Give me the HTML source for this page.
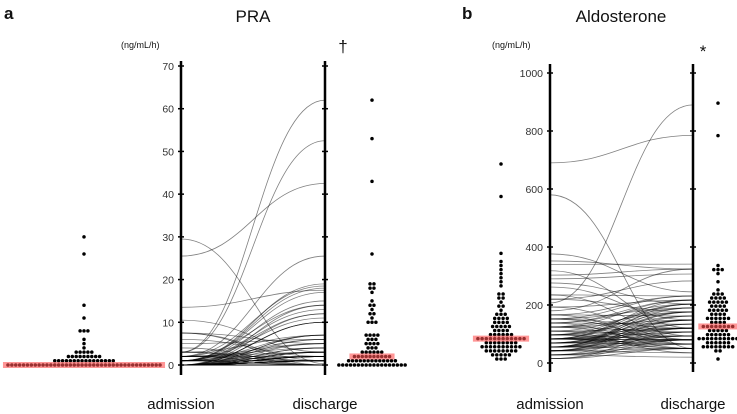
<!DOCTYPE html>
<html><head><meta charset="utf-8"><style>
body{margin:0;background:#fff;}
svg{display:block;font-family:"Liberation Sans",Arial,sans-serif;}
</style></head><body>
<svg id="c" width="737" height="414" viewBox="0 0 737 414"></svg>
<script>
// PRA data (ng/mL/h), paired admission/discharge
const praAdmission=[29.5,25.5,13.5,10.5,7.5,7.5,7.5,6,5,4,3,3,3,3,3,
2,2,2,2,2,2,2,2,2,
1,1,1,1,1,1,1,1,1,1,1,1,1,1,1,1,0,
0,0,0,0,0,0,0,0,0,0,0,0,0,0,0,0,0,0,0,0,0,0,0,0,0,0,0,0,0,0,0,0,0,0,0,0,0,0,0];
const praDischarge=[0.3,42.5,17.5,3,5,1,0,2,6,0,62,52.5,1,7,0,
25.5,18.5,14,4,2,1,0,5,3,
19,18,17,15,13,12,11,7,6,3,2,1,1,0,0,5,2,
10,10,10,12,14,7,7,6,5,4,4,3,3,3,2,2,2,2,2,2,1,1,1,1,1,1,1,1,0,0,0,0,0,0,0,0,0,0,0];
const praTicks=[0,10,20,30,40,50,60,70];
// Aldosterone data
const aldoAdmission=[690,580,376,352,340,318,303,290,276,262,235,235,220,220,207,193,193,180,166,166,166,
152,152,152,152,138,138,138,138,124,124,124,124,124,110,110,110,110,
97,97,97,97,97,97,83,83,83,83,83,83,83,83,83,83,83,83,69,69,69,69,69,69,69,69,
55,55,55,55,55,55,55,55,55,55,42,42,42,42,42,42,42,42,28,28,28,28,28,15,15,15];
const aldoDischarge=[785,50,245,324,341,120,324,307,203,148,231,93,283,176,890,217,80,324,162,231,65,
231,190,120,80,217,50,203,134,107,176,65,217,148,93,120,190,35,162,80,203,50,176,
120,190,148,65,93,217,80,107,134,203,120,50,80,176,148,93,65,162,107,120,80,190,50,
176,134,93,203,80,148,65,120,107,162,50,134,80,93,35,148,120,65,80,50,20,107,80,50];
const aldoTicks=[0,200,400,600,800,1000];

const svg=document.getElementById('c');
const NS='http://www.w3.org/2000/svg';
function mk(tag,attrs,parent){const e=document.createElementNS(NS,tag);for(const k in attrs)e.setAttribute(k,attrs[k]);(parent||svg).appendChild(e);return e;}
function median(a){const s=[...a].sort((x,y)=>x-y);const n=s.length;return n%2?s[(n-1)/2]:(s[n/2-1]+s[n/2])/2;}

function panel(cfg){
  const g=mk('g',{});
  
  
  const y=v=>cfg.y0-v*(cfg.y0-cfg.yTop)/cfg.max;
  const lg=mk('g',{},g);
  
  
  const dx=cfg.x2-cfg.x1;
  for(let i=0;i<cfg.adm.length;i++){
    const y1=y(cfg.adm[i]),y2=y(cfg.dis[i]);
    const p=mk('path',{d:`M${cfg.x1},${y1} C${cfg.x1+dx*0.45},${y1} ${cfg.x2-dx*0.45},${y2} ${cfg.x2},${y2}`,fill:'none',stroke:'rgba(0,0,0,0.5)','stroke-width':0.8},lg);
    
    
  }
  [cfg.x1,cfg.x2].forEach((ax,k)=>{
    const a=mk('line',{x1:ax,x2:ax,y1:cfg.axTop,y2:cfg.axBot,stroke:'#000','stroke-width':2.5},g);
    
    
    cfg.ticks.forEach(t=>{
      const tk=mk('line',{x1:ax-3,x2:ax+3,y1:y(t),y2:y(t),stroke:'#000','stroke-width':1.5},g);
      
      
    });
  });
  cfg.ticks.forEach(t=>{
    const tl=mk('text',{x:cfg.x1-7,y:y(t)+4,'text-anchor':'end','font-size':10.5,fill:'#333'},g);
    tl.textContent=t;
    
    
  });
  function dots(vals,cx,nm){
    const dg=mk('g',{},g);
    
    
    const sp=cfg.sp;
    const rows={};
    vals.forEach(v=>{const r=Math.round(v/cfg.bin);(rows[r]=rows[r]||[]).push(v);});
    for(const r in rows){
      const n=rows[r].length;
      for(let j=0;j<n;j++){
        const c=mk('circle',{cx:cx+(j-(n-1)/2)*sp,cy:y(r*cfg.bin),r:1.75,fill:'#000'},dg);
        
        
      }
    }
    const m=median(vals);const mr=Math.floor(m/cfg.bin+0.49);
    const n=(rows[mr]||[1]).length;
    const w=(n-1)*sp+10;
    const b=mk('rect',{x:cx-w/2,y:y(mr*cfg.bin)-3,width:w,height:6,fill:'rgba(255,80,80,0.6)'},dg);
    
    
  }
  dots(cfg.adm,cfg.dc1,cfg.name+'-admission');
  dots(cfg.dis,cfg.dc2,cfg.name+'-discharge');
  function txt(s,x,yy,size,anchor,nm,extra){
    const t=mk('text',Object.assign({x:x,y:yy,'font-size':size,'text-anchor':anchor,fill:'#111'},extra||{}),g);
    t.textContent=s;
    
    
  }
  txt(cfg.letter,cfg.letterX,19,17,'start','panel-letter',{'font-weight':'bold'});
  txt(cfg.title,cfg.titleX,22,17,'middle','panel-title');
  txt('(ng/mL/h)',cfg.unitX,48,9,'start','unit-label');
  txt(cfg.sig,cfg.sigX,cfg.sigY,cfg.sigSize,'middle','significance-mark');
  txt('admission',cfg.x1,409,15,'middle','x-label-admission');
  txt('discharge',cfg.x2,409,15,'middle','x-label-discharge');
}
panel({name:'pra',adm:praAdmission,dis:praDischarge,ticks:praTicks,max:70,bin:1,sp:3.9,y0:365,yTop:66,axTop:61,axBot:375,
  x1:181,x2:325,dc1:84,dc2:372,letter:'a',letterX:4,title:'PRA',titleX:253,unitX:121,sig:'†',sigX:343,sigY:52,sigSize:17});
panel({name:'aldosterone',adm:aldoAdmission,dis:aldoDischarge,ticks:aldoTicks,max:1000,bin:14,sp:4.2,y0:363,yTop:73,axTop:64,axBot:372,
  x1:550,x2:693,dc1:501,dc2:718,letter:'b',letterX:462,title:'Aldosterone',titleX:621,unitX:492,sig:'*',sigX:703,sigY:57,sigSize:17});
</script>
</body></html>
